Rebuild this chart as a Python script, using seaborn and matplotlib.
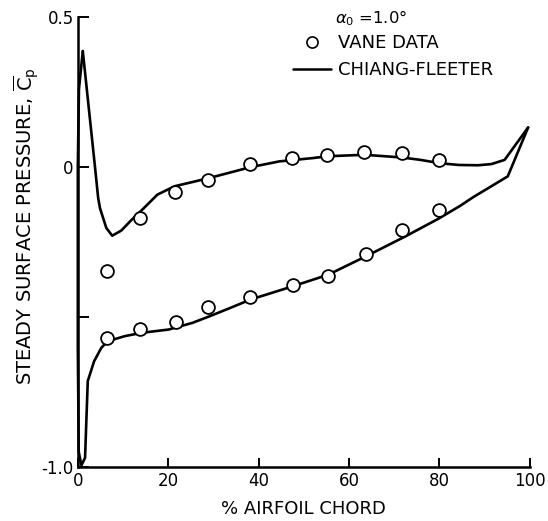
import matplotlib
matplotlib.use("Agg")
import matplotlib.pyplot as plt
import seaborn as sns
from matplotlib.lines import Line2D

# ---------------- data ----------------
# measured (vane data) - upper branch
chord_data_up = [6.5, 13.8, 21.5, 28.8, 38.0, 47.3, 55.2, 63.4, 71.7, 80.0]
cp_data_up = [-0.347, -0.17, -0.083, -0.043, 0.01, 0.03, 0.04, 0.05, 0.047, 0.023]
# measured (vane data) - lower branch
chord_data_lo = [6.5, 13.8, 21.7, 28.9, 38.1, 47.5, 55.4, 63.7, 71.6, 79.9]
cp_data_lo = [-0.57, -0.54, -0.517, -0.467, -0.433, -0.393, -0.363, -0.29, -0.21, -0.143]

# Chiang-Fleeter theory - upper branch
chord_th_up = [1.1, 3.8, 4.5, 4.9, 6.3, 7.6, 9.6, 11.9, 14.6, 17.6, 21.4, 25.9, 29.7,
               34.5, 38.0, 44.6, 52.0, 55.2, 63.4, 71.7, 75.8, 80.0, 84.3, 88.5,
               91.5, 94.4, 99.6]
cp_th_up = [0.387, 0.0, -0.103, -0.137, -0.203, -0.229, -0.212, -0.176, -0.137, -0.092,
            -0.064, -0.048, -0.034, -0.015, -0.001, 0.019, 0.03, 0.036, 0.041, 0.032,
            0.024, 0.013, 0.007, 0.006, 0.01, 0.024, 0.132]
# Chiang-Fleeter theory - lower branch
chord_th_lo = [1.1, 0.25, 0.0, 0.0, 0.2, 0.8, 1.6, 2.2, 3.6, 5.2, 6.6, 10.4, 14.1, 20.1,
               25.3, 29.1, 33.7, 38.2, 47.5, 55.4, 63.7, 72.5, 79.8, 84.5, 87.5, 95.1, 99.6]
cp_th_lo = [0.387, 0.26, 0.0, -0.6, -0.95, -0.995, -0.97, -0.714, -0.648, -0.603, -0.581,
            -0.564, -0.553, -0.542, -0.52, -0.498, -0.47, -0.442, -0.398, -0.359, -0.298,
            -0.231, -0.172, -0.13, -0.1, -0.031, 0.132]

x_ticks = [0, 20, 40, 60, 80, 100]
y_ticks = [-1.0, -0.5, 0.0, 0.5]
y_ticklabels = ["-1.0", "", "0", "0.5"]

# ---------------- plot ----------------
sns.set_style("ticks")
plt.rcParams['font.family'] = ['DejaVu Sans']
plt.rcParams.update({"text.color": "black", "axes.labelcolor": "black",
                     "xtick.color": "black", "ytick.color": "black"})

fig = plt.figure(figsize=(5.48, 5.21), dpi=100)
ax = fig.add_axes([0.142, 0.104, 0.825, 0.863])

line_kw = dict(color="black", linewidth=1.9, sort=False, estimator=None, ax=ax)
sns.lineplot(x=chord_th_up, y=cp_th_up, **line_kw)
sns.lineplot(x=chord_th_lo, y=cp_th_lo, **line_kw)
for l in ax.lines:
    l.set_clip_on(False)

sc_kw = dict(marker="o", s=85, facecolor="white", edgecolor="black",
             linewidth=1.3, zorder=3, ax=ax, clip_on=False)
sns.scatterplot(x=chord_data_up, y=cp_data_up, **sc_kw)
sns.scatterplot(x=chord_data_lo, y=cp_data_lo, **sc_kw)

ax.set_xlim(0, 100)
ax.set_ylim(-1.0, 0.5)
ax.set_xticks(x_ticks)
ax.set_yticks(y_ticks)
ax.set_yticklabels(y_ticklabels)
ax.tick_params(axis="both", direction="in", width=1.4, labelsize=12, colors="black")
ax.tick_params(axis="x", length=6.5, pad=4)
ax.tick_params(axis="y", length=8, pad=3)
sns.despine(ax=ax)
for s in ["left", "bottom"]:
    ax.spines[s].set_linewidth(1.8)
    ax.spines[s].set_color("black")

ax.set_xlabel("% AIRFOIL CHORD", fontsize=13)
ax.xaxis.set_label_coords(0.5, -0.093)
ax.xaxis.label.set_va("center")
ax.set_ylabel(r"STEADY SURFACE PRESSURE, $\overline{\mathrm{C}}_\mathrm{p}$", fontsize=14)
ax.yaxis.set_label_coords(-0.113, 0.535)
ax.yaxis.label.set_va("center")

# legend
handles = [
    Line2D([], [], linestyle="none", marker="o", markersize=8, markerfacecolor="white",
           markeredgecolor="black", markeredgewidth=1.2),
    Line2D([], [], color="black", linewidth=1.8),
]
leg = ax.legend(handles, ["VANE DATA", "CHIANG-FLEETER"], loc="upper left",
                bbox_to_anchor=(293 / 548, 1 - 34 / 521), bbox_transform=fig.transFigure,
                frameon=False, fontsize=13, handlelength=2.1, handletextpad=0.4,
                labelspacing=0.5, borderpad=0, borderaxespad=0)
fig.text(335 / 548, 1 - 18 / 521, r"$\alpha_0$ =1.0°", fontsize=11.8, va="center", ha="left")

fig.savefig("out.png", dpi=100, facecolor="white")
